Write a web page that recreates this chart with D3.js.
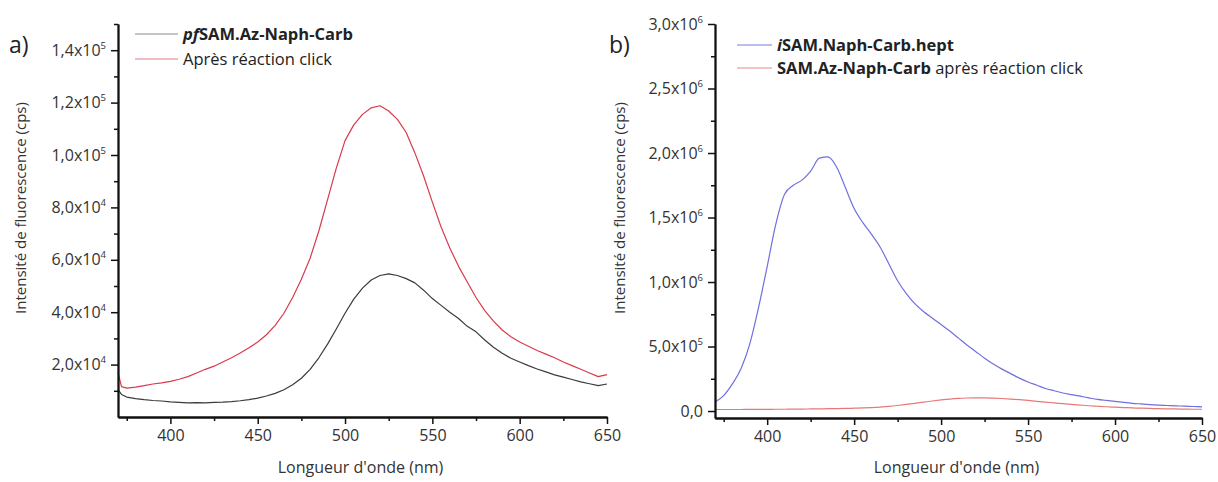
<!DOCTYPE html>
<html>
<head>
<meta charset="utf-8">
<script src="https://cdn.jsdelivr.net/npm/d3@7"></script>
<style>
  html, body { margin: 0; padding: 0; background: #fff; }
  svg { display: block; font-family: "Open Sans", "DejaVu Sans", sans-serif; }
</style>
</head>
<body>
<svg id="chart" width="1218" height="482"></svg>
<script>
// ---------- Panel a data ----------
const wavelengthA = [370,372,375,380,385,390,395,400,405,410,415,420,425,430,435,440,445,450,455,460,465,470,475,480,485,490,495,500,505,510,515,520,525,530,535,540,545,550,555,560,565,570,575,580,585,590,595,600,605,610,615,620,625,630,635,640,645,650];
// intensity in 10^3 cps
const pfSAM = [10.5,8.6,7.6,7.0,6.6,6.3,6.1,5.8,5.6,5.4,5.5,5.4,5.6,5.7,5.9,6.2,6.6,7.2,8.0,9.0,10.4,12.3,14.8,18.2,22.6,27.8,33.6,39.6,45.0,49.2,52.3,54.0,54.6,54.0,52.8,51.2,48.4,45.2,42.6,40.0,37.6,34.6,32.5,29.4,26.6,24.3,22.4,21.0,19.6,18.3,17.2,16.1,15.2,14.3,13.4,12.7,12.0,12.6];
const apresClick = [17.0,11.6,11.0,11.4,12.0,12.6,13.0,13.6,14.4,15.4,16.8,18.2,19.4,21.0,22.6,24.4,26.4,28.6,31.4,35.0,39.6,45.6,52.6,60.6,71.0,83.0,95.0,105.5,111.5,115.5,118.0,118.8,116.8,113.6,108.6,100.8,92.0,82.0,72.5,64.5,57.5,51.5,45.6,40.6,36.6,33.2,30.6,28.6,27.0,25.4,24.0,22.6,21.0,19.6,18.2,16.8,15.4,16.2];
const yTicksA = [20000,40000,60000,80000,100000,120000,140000];
const yTickLabelsA = ["2,0x10^4","4,0x10^4","6,0x10^4","8,0x10^4","1,0x10^5","1,2x10^5","1,4x10^5"];

// ---------- Panel b data ----------
const wavelengthB = [370,375,380,385,390,395,400,405,410,415,420,425,430,435,440,445,450,455,460,465,470,475,480,485,490,495,500,505,510,515,520,525,530,535,540,545,550,555,560,565,570,575,580,585,590,595,600,605,610,615,620,625,630,635,640,645,650];
// intensity in 10^6 cps
const iSAMhept = [0.07,0.12,0.21,0.33,0.52,0.80,1.12,1.45,1.68,1.75,1.79,1.86,1.96,1.97,1.89,1.73,1.57,1.46,1.37,1.27,1.14,1.01,0.91,0.83,0.77,0.72,0.67,0.62,0.565,0.51,0.46,0.41,0.365,0.325,0.29,0.255,0.225,0.20,0.175,0.157,0.14,0.127,0.115,0.102,0.09,0.082,0.075,0.067,0.06,0.055,0.05,0.046,0.043,0.04,0.038,0.035,0.033];
const samAzClick = [0.012,0.012,0.012,0.012,0.013,0.013,0.013,0.014,0.014,0.015,0.015,0.016,0.017,0.018,0.019,0.020,0.022,0.024,0.027,0.031,0.036,0.043,0.051,0.060,0.069,0.078,0.086,0.093,0.098,0.101,0.102,0.102,0.100,0.097,0.093,0.088,0.082,0.075,0.069,0.063,0.057,0.051,0.046,0.041,0.037,0.033,0.030,0.027,0.024,0.022,0.020,0.018,0.017,0.016,0.015,0.014,0.014];
const yTicksB = [0,500000,1000000,1500000,2000000,2500000,3000000];
const yTickLabelsB = ["0,0","5,0x10^5","1,0x10^6","1,5x10^6","2,0x10^6","2,5x10^6","3,0x10^6"];

const xTicks = [400,450,500,550,600,650];
const xTickLabels = ["400","450","500","550","600","650"];
const xMinorTicks = [375,425,475,525,575,625];
const xTitle = "Longueur d'onde (nm)";
const yTitle = "Intensité de fluorescence (cps)";

const svg = d3.select("#chart");

function drawPanel(cfg) {
  const g = svg.append("g");
  const x = d3.scaleLinear().domain([370, 650]).range([cfg.x0, cfg.x1]);
  const y = d3.scaleLinear().domain(cfg.yDomain).range([cfg.y0, cfg.y1]);

  // curves
  cfg.series.forEach(s => {
    const pts = s.values.map((v, i) => [s.wl[i], v * s.mult]);
    g.append("path")
      .datum(pts)
      .attr("fill", "none")
      .attr("stroke", s.color)
      .attr("stroke-width", 1.2)
      .attr("stroke-linejoin", "round")
      .attr("d", d3.line().curve(cfg.curve).x(d => x(d[0])).y(d => y(d[1])));
  });

  // x axis
  const xa = g.append("g").attr("transform", `translate(0,${cfg.y0})`)
    .call(d3.axisBottom(x).tickValues(xTicks).tickFormat((d, i) => xTickLabels[i]).tickSize(7).tickSizeOuter(0).tickPadding(6));
  g.append("g").attr("transform", `translate(0,${cfg.y0})`)
    .call(d3.axisBottom(x).tickValues(xMinorTicks).tickFormat("").tickSize(4).tickSizeOuter(0));
  // y axis
  const ya = g.append("g").attr("transform", `translate(${cfg.x0},0)`)
    .call(d3.axisLeft(y).tickValues(cfg.yTicks).tickFormat("").tickSize(7).tickSizeOuter(0));
  g.append("g").attr("transform", `translate(${cfg.x0},0)`)
    .call(d3.axisLeft(y).tickValues(cfg.yMinor).tickFormat("").tickSize(4).tickSizeOuter(0));

  g.selectAll(".domain").attr("stroke", "#111").attr("stroke-width", 1.8);
  g.selectAll(".tick line").attr("stroke", "#111").attr("stroke-width", 1.5);
  xa.selectAll(".tick text").attr("font-size", 16).attr("fill", "#333").attr("font-family", "Open Sans");

  ya.selectAll(".tick text").each(function(d, i) {
    const t = d3.select(this);
    const parts = cfg.yLabels[i].split("^");
    t.text(null).attr("font-size", 16).attr("fill", "#333").attr("font-family", "Open Sans").attr("x", -12);
    t.append("tspan").text(parts[0]);
    if (parts[1]) t.append("tspan").attr("dy", -7).attr("font-size", 9.5).text(parts[1]);
  });

  // titles
  g.append("text").attr("x", (cfg.x0 + cfg.x1) / 2 - 2).attr("y", 473)
    .attr("text-anchor", "middle").attr("font-size", 16).attr("fill", "#333").text(xTitle);
  g.append("text").attr("transform", `translate(${cfg.yTitleX},${cfg.yTitleY}) rotate(-90)`)
    .attr("text-anchor", "middle").attr("font-size", 15).attr("fill", "#333").text(yTitle);

  // panel letter
  g.append("text").attr("x", cfg.letterX).attr("y", 53).attr("font-size", 23).attr("fill", "#222").text(cfg.letter);

  // legend
  cfg.legend.forEach((L, i) => {
    const ly = cfg.legY0 + i * cfg.legDy;
    g.append("line").attr("x1", cfg.legX0).attr("x2", cfg.legX1).attr("y1", ly).attr("y2", ly)
      .attr("stroke", L.color).attr("stroke-width", 1.2);
    const t = g.append("text").attr("x", cfg.legX1 + 5).attr("y", ly + 5.5).attr("font-size", 16.5).attr("fill", "#222");
    L.parts.forEach(p => {
      const ts = t.append("tspan").text(p.text);
      if (p.bold) ts.attr("font-weight", "bold");
      if (p.italic) ts.attr("font-style", "italic");
    });
  });
}

drawPanel({
  x0: 118, x1: 607, y0: 417, y1: 24, yDomain: [0, 150000],
  yTicks: yTicksA, yLabels: yTickLabelsA,
  yMinor: [10000,30000,50000,70000,90000,110000,130000,150000],
  curve: d3.curveLinear,
  series: [
    { wl: wavelengthA, values: pfSAM, mult: 1000, color: "#3b3b3b" },
    { wl: wavelengthA, values: apresClick, mult: 1000, color: "#d83a4a" }
  ],
  yTitleX: 26, yTitleY: 208,
  letter: "a)", letterX: 9,
  legX0: 135, legX1: 178, legY0: 34, legDy: 25,
  legend: [
    { color: "#8a8a8a", parts: [{ text: "pf", bold: true, italic: true }, { text: "SAM.Az-Naph-Carb", bold: true }] },
    { color: "#e07a84", parts: [{ text: "Après réaction click" }] }
  ]
});

drawPanel({
  x0: 715, x1: 1202, y0: 418, y1: 24, yDomain: [-54000, 3000000],
  yTicks: yTicksB, yLabels: yTickLabelsB,
  yMinor: [250000,750000,1250000,1750000,2250000,2750000],
  curve: d3.curveMonotoneX,
  series: [
    { wl: wavelengthB, values: samAzClick, mult: 1e6, color: "#e87878" },
    { wl: wavelengthB, values: iSAMhept, mult: 1e6, color: "#6f6fe0" }
  ],
  yTitleX: 625, yTitleY: 208,
  letter: "b)", letterX: 609,
  legX0: 737, legX1: 772, legY0: 45, legDy: 23,
  legend: [
    { color: "#7a7ae0", parts: [{ text: "i", bold: true, italic: true }, { text: "SAM.Naph-Carb.hept", bold: true }] },
    { color: "#e88a90", parts: [{ text: "SAM.Az-Naph-Carb", bold: true }, { text: " après réaction click" }] }
  ]
});
</script>
</body>
</html>
